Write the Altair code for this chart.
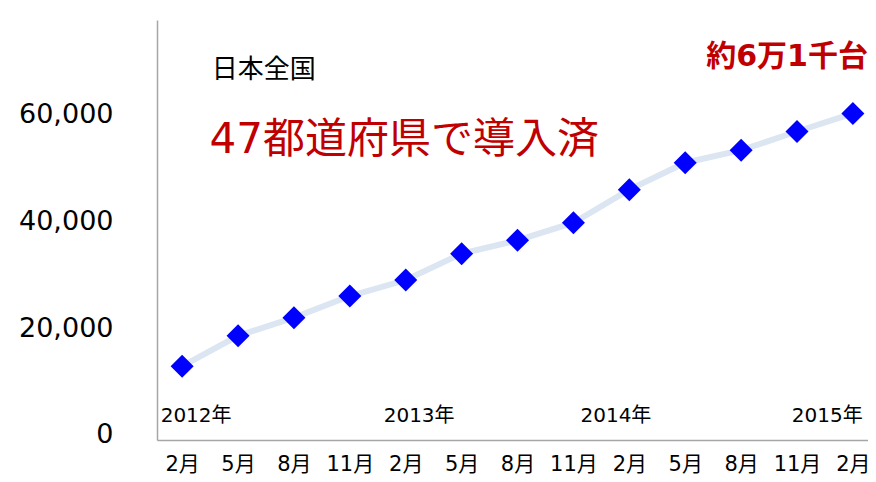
import altair as alt
import pandas as pd

months = ["2月", "5月", "8月", "11月", "2月", "5月", "8月", "11月", "2月", "5月", "8月", "11月", "2月"]
values = [12900, 18600, 22000, 26050, 29050, 34000, 36500, 39800, 46000, 51050, 53400, 56900, 60300]
years = ["2012年", "2013年", "2014年", "2015年"]
year_pos = [0.25, 4.24, 7.76, 11.54]
y_ticks = [0, 20000, 40000, 60000]

FONT = "DejaVu Sans, Noto Sans CJK JP"

df = pd.DataFrame({"i": list(range(len(values))), "v": values})
ydf = pd.DataFrame({"i": year_pos, "label": years, "v": [3560] * len(years)})

xscale = alt.Scale(domain=[-0.45, 12.27], nice=False, zero=False)
yscale = alt.Scale(domain=[-940, 77810], nice=False, zero=False)

label_arr = "[" + ",".join("'" + m + "'" for m in months) + "]"

x_enc = alt.X("i:Q", scale=xscale, axis=alt.Axis(
    values=list(range(len(months))), labelExpr=label_arr + "[datum.value]",
    ticks=False, grid=False, title=None, labelFont=FONT, labelFontSize=21,
    labelColor="#000000", labelPadding=13, domainColor="#a6a6a6", domainWidth=1.5,
    labelFlush=False, labelOverlap=False))
y_enc = alt.Y("v:Q", scale=yscale, axis=alt.Axis(
    values=y_ticks, format=",d", ticks=False, grid=False, title=None,
    labelFont=FONT, labelFontSize=27, labelColor="#000000", labelPadding=44,
    domainColor="#a6a6a6", domainWidth=1.5, labelFlush=False, labelOverlap=False))

base = alt.Chart(df)
line = base.mark_line(color="#dce6f2", strokeWidth=6).encode(x=x_enc, y=y_enc)
pts = base.mark_point(shape="diamond", filled=True, color="#0000ff", size=530, opacity=1).encode(x="i:Q", y="v:Q")

yrs = alt.Chart(ydf).mark_text(font=FONT, fontSize=20, color="#000000", baseline="middle", align="center").encode(
    x="i:Q", y="v:Q", text="label:N")

ann = pd.DataFrame({
    "i": [0.53, 0.49, 12.27],
    "v": [68440, 55300, 70900],
    "t": ["日本全国", "47都道府県で導入済", "約6万1千台"],
})
a1 = alt.Chart(ann.iloc[[0]]).mark_text(font=FONT, fontSize=26, color="#000000", align="left", baseline="middle").encode(
    x="i:Q", y="v:Q", text="t:N")
a2 = alt.Chart(ann.iloc[[1]]).mark_text(font=FONT, fontSize=42, color="#c00000", align="left", baseline="middle").encode(
    x="i:Q", y="v:Q", text="t:N")
a3 = alt.Chart(ann.iloc[[2]]).mark_text(font=FONT, fontSize=30, fontWeight="bold", color="#c00000", align="right", baseline="middle").encode(
    x="i:Q", y="v:Q", text="t:N")

chart = alt.layer(line, pts, yrs, a1, a2, a3).properties(
    width=711, height=420,
    autosize=alt.AutoSizeParams(type="none"),
    padding={"left": 149, "top": 12, "right": 0, "bottom": 34},
    view=alt.ViewBackground(stroke="transparent", strokeWidth=0),
).configure_view(strokeWidth=0, stroke="transparent").configure(background="#ffffff")

chart.save("out.html", embed_options={"renderer": "svg", "actions": False})
